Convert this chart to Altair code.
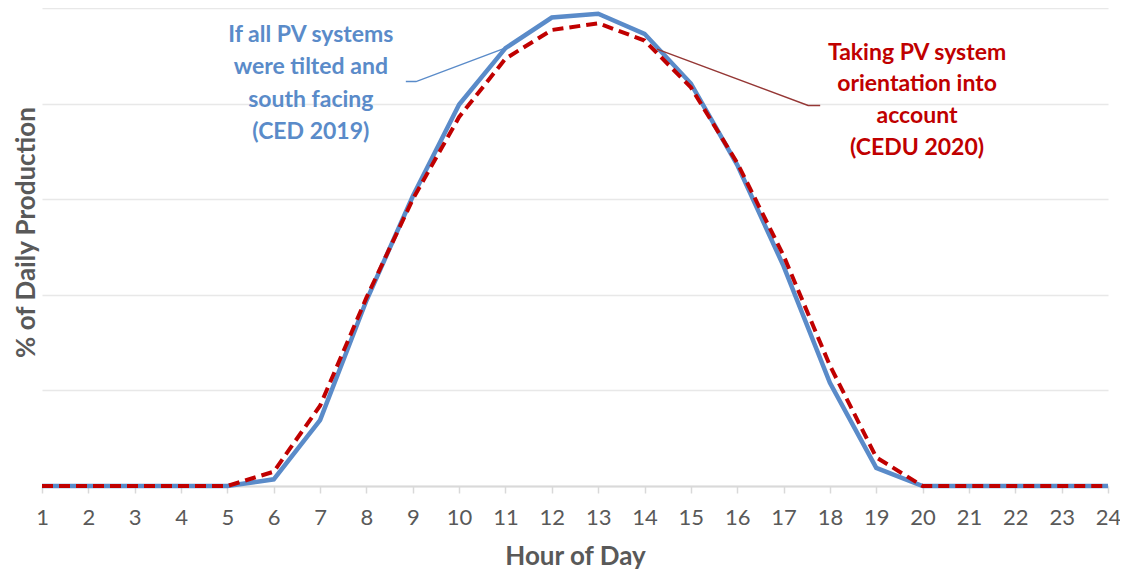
import altair as alt
import pandas as pd

hours = list(range(1, 25))
ced_2019 = [0, 0, 0, 0, 0, 0.07, 0.69, 1.94, 3.03, 3.99, 4.58, 4.90, 4.94, 4.73, 4.21, 3.36, 2.30, 1.08, 0.19, 0, 0, 0, 0, 0]
cedu_2020 = [0, 0, 0, 0, 0, 0.15, 0.84, 1.97, 3.00, 3.86, 4.47, 4.77, 4.84, 4.66, 4.17, 3.38, 2.41, 1.26, 0.30, 0, 0, 0, 0, 0]

blue_lines = ["If all PV systems", "were tilted and", "south facing", "(CED 2019)"]
blue_line_y = [4.72, 4.38, 4.04, 3.70]
blue_text_x = [6.80] * 4
red_lines = ["Taking PV system", "orientation into", "account", "(CEDU 2020)"]
red_line_y = [4.53, 4.20, 3.87, 3.54]
red_text_x = [19.88] * 4

blue_leader_x = [8.85, 9.07, 10.99]
blue_leader_y = [4.23, 4.23, 4.58]
red_leader_x = [14.27, 17.53, 17.79]
red_leader_y = [4.57, 3.98, 3.98]

BLUE = "#5a8bc9"
RED = "#c00000"
LEADER_RED = "#953735"

df = pd.DataFrame({"hour": hours, "ced": ced_2019, "cedu": cedu_2020})

xscale = alt.Scale(domain=[1, 24], nice=False)
yscale = alt.Scale(domain=[0, 5], nice=False)

base = alt.Chart(df)

blue = base.mark_line(color=BLUE, strokeWidth=4.5, strokeJoin="miter").encode(
    x=alt.X("hour:Q", scale=xscale,
            axis=alt.Axis(values=hours, title="Hour of Day", grid=False,
                          domainColor="#d9d9d9", domainWidth=2,
                          tickColor="#d9d9d9", tickSize=7, tickWidth=1.5,
                          labelFont="Lato", labelFontSize=22, labelColor="#595959",
                          labelPadding=14, labelFontWeight="normal", labelFlush=False,
                          labelBound=False,
                          titleFont="Lato", titleFontSize=26, titleFontWeight="bold",
                          titleColor="#595959", titlePadding=15)),
    y=alt.Y("ced:Q", scale=yscale,
            axis=alt.Axis(values=[0, 1, 2, 3, 4, 5], labels=False, ticks=False, domain=False,
                          grid=True, gridColor="#e8e8e8", gridWidth=1.5,
                          title="% of Daily Production",
                          titleFont="Lato", titleFontSize=26, titleFontWeight="bold",
                          titleColor="#595959", titlePadding=3, titleY=224)),
)

red = base.mark_line(color=RED, strokeWidth=4, strokeDash=[11, 6]).encode(
    x=alt.X("hour:Q", scale=xscale),
    y=alt.Y("cedu:Q", scale=yscale),
)


def leader(xs, ys, color):
    d = pd.DataFrame({"x": xs, "y": ys, "ord": list(range(len(xs)))})
    return alt.Chart(d).mark_line(strokeWidth=1.5, color=color).encode(
        x=alt.X("x:Q", scale=xscale),
        y=alt.Y("y:Q", scale=yscale),
        order="ord:Q",
    )


def label(xs, ys, texts, color):
    d = pd.DataFrame({"x": xs, "y": ys, "t": texts})
    return alt.Chart(d).mark_text(font="Lato", fontSize=23, fontWeight="bold", align="center",
                                  baseline="middle", color=color).encode(
        x=alt.X("x:Q", scale=xscale),
        y=alt.Y("y:Q", scale=yscale),
        text="t:N",
    )


chart = alt.layer(
    blue, red,
    leader(blue_leader_x, blue_leader_y, BLUE),
    leader(red_leader_x, red_leader_y, LEADER_RED),
    label(blue_text_x, blue_line_y, blue_lines, BLUE),
    label(red_text_x, red_line_y, red_lines, RED),
).properties(
    width=1066, height=478,
    autosize=alt.AutoSizeParams(type="none"),
    padding={"left": 34, "top": 0, "right": 12, "bottom": 90},
).configure_view(stroke=None)

chart.save("out.html", embed_options={"renderer": "svg", "actions": False})
